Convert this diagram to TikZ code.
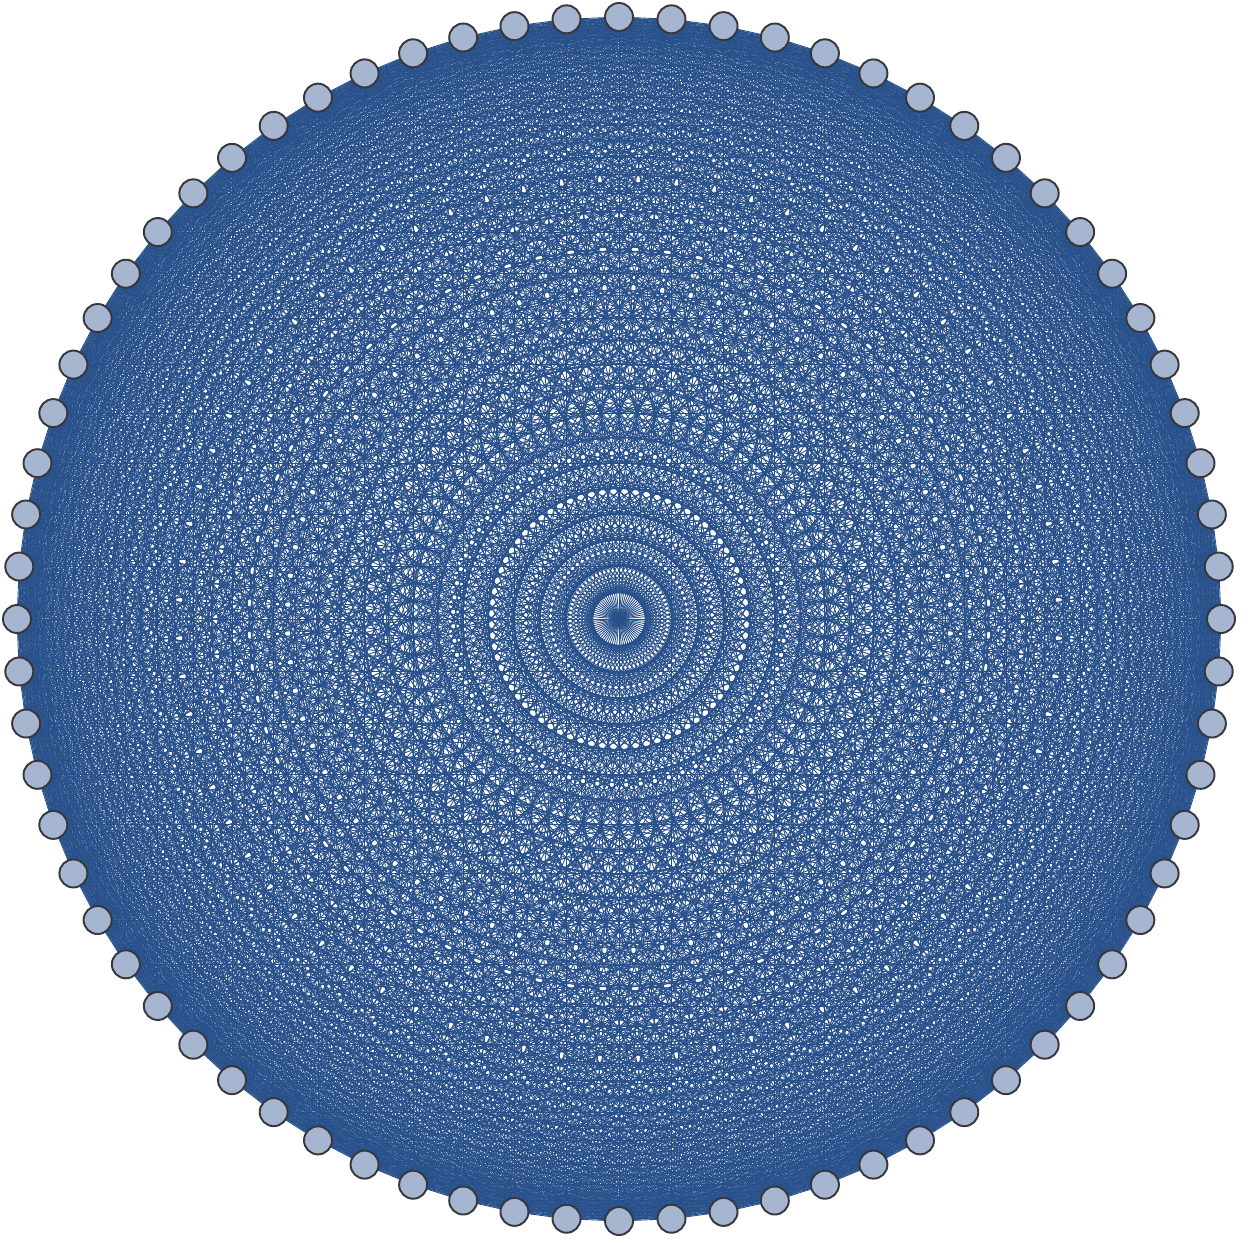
\documentclass[tikz,border=0pt]{standalone}
\usepackage{tikz}
\usetikzlibrary{backgrounds}
\definecolor{edgeblue}{RGB}{40, 80, 138}
\definecolor{vertexfill}{RGB}{166, 181, 208}
\definecolor{vertexline}{RGB}{55, 55, 60}

\begin{document}
\begin{tikzpicture}[
    vertex/.style={circle, draw=vertexline, fill=vertexfill, line width=0.55pt, minimum size=0.28cm, inner sep=0pt},
    edge/.style={draw=edgeblue, line width=0.25pt}
  ]
  \useasboundingbox (-6.19,-6.24) rectangle (6.32,6.19);
  % vertices of the complete graph
  \foreach \i in {0,...,71}
    \node[vertex] (v\i) at ({90+5*\i}:6.02) {};
  % every pair of vertices
  \begin{pgfonlayer}{background}
    \foreach \i in {0,...,70}{
      \pgfmathtruncatemacro{\nxt}{\i+1}
      \foreach \j in {\nxt,...,71}
        \draw[edge] (v\i.center) -- (v\j.center);
    }
  \end{pgfonlayer}
\end{tikzpicture}
\end{document}
